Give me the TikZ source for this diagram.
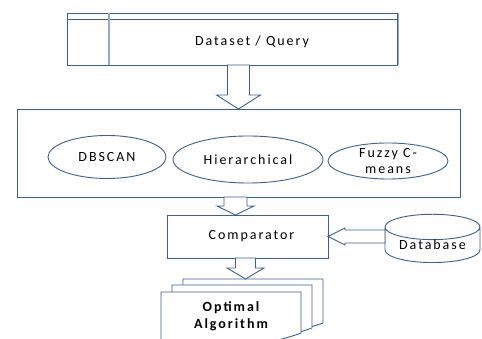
\documentclass[tikz,border=0pt]{standalone}
\usepackage{fontspec}
\setmainfont{Carlito}[LetterSpace=14]
\usepackage{tikz}
\usetikzlibrary{shapes.geometric}
\usetikzlibrary{positioning,calc}

\definecolor{shapeline}{RGB}{62,94,140}
\definecolor{shapelight}{RGB}{150,168,198}

\begin{document}
\begin{tikzpicture}[x=1pt,y=1pt]

    \tikzstyle{box}=[draw=shapeline,line width=0.9pt,fill=white,outer sep=0pt,inner sep=0pt]
    \tikzstyle{method}=[draw=shapeline,line width=0.9pt,ellipse,inner sep=0pt,font=\fontsize{14}{16}\selectfont,align=center]
    \tikzstyle{blockarrow}=[draw=shapeline,line width=0.9pt,fill=white,line join=miter]
    \tikzstyle{page}=[draw=shapeline,line width=0.9pt,fill=white]
      \coordinate (origo) at (0,0);

\useasboundingbox (origo) rectangle (482,339);

\node (dataset) [box,minimum width=330,minimum height=52,label={[font=\fontsize{14}{15}\selectfont,xshift=20pt,yshift=-3pt]center:Dataset / Query}] at (232,300) {};
\draw [shapeline,line width=0.9pt] ([yshift=-6]dataset.north west) -- ([yshift=-6]dataset.north east);
\draw [shapelight,line width=1.8pt] ([xshift=42]dataset.north west) -- ([xshift=42]dataset.south west);
\draw [shapelight,line width=1pt] ([xshift=1.5]dataset.north east) -- ([xshift=1.5]dataset.south east);

\node (methods) [box,minimum width=443,minimum height=88] at (238.5,186) {};

\node (dbscan) [method,minimum width=118,minimum height=43] at (107,182) {DBSCAN};
\node (hier) [method,minimum width=150,minimum height=47] at (248,179.5) {Hierarchical};
\node (fuzzy) [method,minimum width=120,minimum height=36,inner sep=-4pt] at (388,178) {Fuzzy C-\\means};

\node (comp) [box,minimum width=161,minimum height=43,font=\fontsize{14}{15}\selectfont] at (247.5,102.5) {\hspace*{8pt}Comparator};

\node (database) [cylinder,shape border rotate=90,draw=shapeline,line width=0.9pt,minimum width=95,minimum height=33,aspect=0.38,inner sep=0pt,anchor=south,font=\fontsize{14}{15}\selectfont] at (432.5,76) {Database};

% block arrows
\draw[blockarrow] (methods.north) --++(22,14) --++(-11,0) --++(0,30) --++(-22,0) --++(0,-30) --++(-11,0) -- cycle;

\draw[blockarrow] ([xshift=-12]comp.north) --++(18.5,9) --++(-7,0) --++(0,9) --++(-23,0) --++(0,-9) --++(-7,0) -- cycle;

\draw[blockarrow] (comp.east) --++(17,8.5) --++(0,-2) --++(40,0) --++(0,-13) --++(-40,0) --++(0,-2) -- cycle;

% pages
\begin{scope}
\clip (origo) rectangle (482,339);
\draw[page] (183,60) -- (323,60) -- (323,16) .. controls (290,4) and (230,-4) .. (183,-6) -- cycle;
\draw[page] (172,54) -- (312,54) -- (312,11) .. controls (280,-1) and (220,-9) .. (172,-11) -- cycle;
\draw[page] (161,47) -- (301,47) -- (301,6) .. controls (270,-6) and (210,-14) .. (161,-16) -- cycle;
\end{scope}

\node (optimal) [align=center,font=\fontsize{14}{17}\bfseries\selectfont] at (231,22.5) {Optimal\\Algorithm};

\draw[blockarrow] ([xshift=-12]comp.south) --++(0,-10) --++(-8.5,0) --++(18.5,-11) --++(18.5,11) --++(-8.5,0) --++(0,10) -- cycle;

\end{tikzpicture}
\end{document}
